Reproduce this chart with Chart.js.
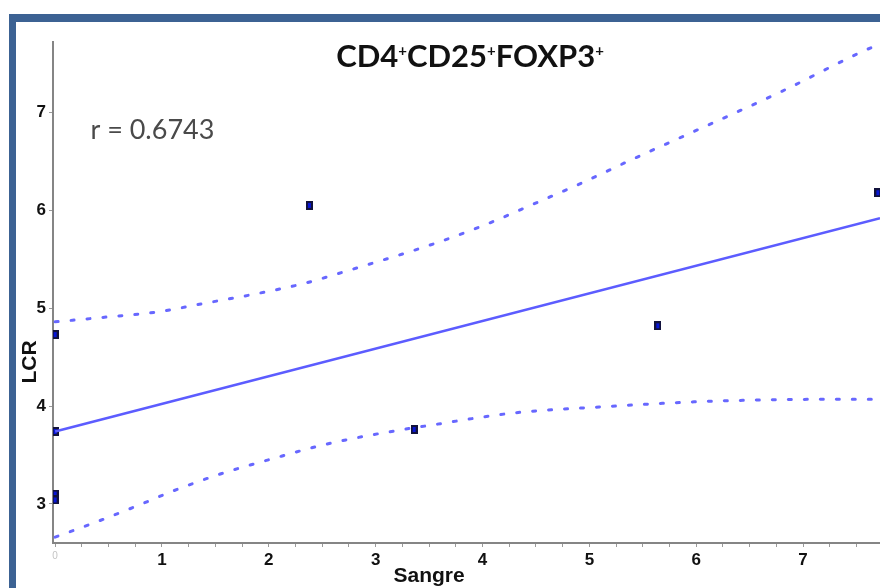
<!DOCTYPE html>
<html>
<head>
<meta charset="utf-8">
<script src="https://cdn.jsdelivr.net/npm/chart.js@4.4.1/dist/chart.umd.min.js"></script>
<style>
  html, body { margin: 0; padding: 0; background: #fff; overflow: hidden; width: 880px; height: 588px; }
  #frame {
    position: absolute; left: 9px; top: 14px; width: 871px; height: 574px;
    border-top: 8px solid #3c6293; border-left: 7px solid #3c6293;
    box-sizing: border-box;
  }
  #chartCanvas { position: absolute; left: 0; top: 0; }
</style>
</head>
<body>
<div id="frame"></div>
<!-- canvas a few px wider than the window so the plot runs off the right edge like the source -->
<canvas id="chartCanvas" width="885" height="588"></canvas>
<script>
// observed points (Sangre vs LCR)
const pointsX = [0, 0, 0, 0, 2.38, 3.36, 5.64, 7.70];
const pointsY = [4.73, 3.74, 3.10, 3.04, 6.05, 3.76, 4.82, 6.18];

// regression line
const fitX = [0, 7.72];
const fitY = [3.74, 5.92];

// confidence band
const upperX = [0, 0.49, 0.95, 1.40, 1.85, 2.32, 2.79, 3.55, 4.02, 4.49, 4.93, 5.40, 6.17, 6.79, 7.55, 7.72];
const upperY = [4.86, 4.91, 4.96, 5.05, 5.14, 5.25, 5.40, 5.66, 5.85, 6.07, 6.28, 6.52, 6.90, 7.21, 7.62, 7.70];
const lowerX = [0, 0.35, 0.79, 1.10, 1.56, 2.03, 2.50, 2.94, 3.55, 4.30, 5.09, 6.17, 7.57, 7.72];
const lowerY = [2.66, 2.80, 2.99, 3.13, 3.31, 3.46, 3.60, 3.70, 3.81, 3.93, 3.99, 4.05, 4.07, 4.07];

// axis ticks
const xTickLabels = [0, 1, 2, 3, 4, 5, 6, 7];
const xMinorStep = 0.25;
const yTickLabels = [3, 4, 5, 6, 7];

const titleParts = ['CD4', 'CD25', 'FOXP3'];
const rText = 'r = 0.6743';
const xTitle = 'Sangre';
const yTitle = 'LCR';

const toXY = (xs, ys) => xs.map((x, i) => ({ x: x, y: ys[i] }));

// small dark-blue rectangle like the original markers
function makeMarker() {
    const c = document.createElement('canvas');
    c.width = 7;
    c.height = 9;
    const g = c.getContext('2d');
    g.fillStyle = '#12123c';
    g.fillRect(0, 0, 7, 9);
    g.fillStyle = '#0816d6';
    g.fillRect(2, 2, 3, 5);
    return c;
}

const textPlugin = {
    id: 'texts',
    afterDraw(chart) {
        const ctx = chart.ctx;
        const xs = chart.scales.x;
        const ys = chart.scales.y;
        ctx.save();

        // title with superscript plus signs
        const bigFont = 'bold 31px Lato';
        const smallFont = 'bold 15px Lato';
        let total = 0;
        const widths = titleParts.map(p => {
            ctx.font = bigFont;
            const w = ctx.measureText(p).width;
            ctx.font = smallFont;
            const pw = ctx.measureText('+').width;
            total += w + pw;
            return [w, pw];
        });
        let cx = 470 - total / 2;
        ctx.textBaseline = 'alphabetic';
        ctx.textAlign = 'left';
        ctx.fillStyle = '#111';
        titleParts.forEach((p, i) => {
            ctx.font = bigFont;
            ctx.fillText(p, cx, 67);
            cx += widths[i][0];
            ctx.font = smallFont;
            ctx.fillText('+', cx, 56);
            cx += widths[i][1];
        });

        // correlation text
        ctx.font = '27px Lato';
        ctx.fillStyle = '#4a4a4a';
        ctx.textBaseline = 'middle';
        ctx.fillText(rText, xs.getPixelForValue(0.33), ys.getPixelForValue(6.82));

        // axis titles
        ctx.font = 'bold 21px "Liberation Sans"';
        ctx.fillStyle = '#111';
        ctx.textAlign = 'center';
        ctx.fillText(xTitle, xs.getPixelForValue(3.5), 576);

        ctx.translate(30, ys.getPixelForValue(4.45));
        ctx.rotate(-Math.PI / 2);
        ctx.fillText(yTitle, 0, 0);
        ctx.restore();
    }
};

const marker = makeMarker();

new Chart(document.getElementById('chartCanvas'), {
    type: 'scatter',
    data: {
        datasets: [
            {
                label: 'upper',
                data: toXY(upperX, upperY),
                showLine: true,
                borderColor: '#6767ff',
                borderWidth: 3,
                borderDash: [3, 13],
                borderCapStyle: 'round',
                cubicInterpolationMode: 'monotone',
                pointRadius: 0
            },
            {
                label: 'lower',
                data: toXY(lowerX, lowerY),
                showLine: true,
                borderColor: '#6767ff',
                borderWidth: 3,
                borderDash: [3, 13],
                borderCapStyle: 'round',
                cubicInterpolationMode: 'monotone',
                pointRadius: 0
            },
            {
                label: 'fit',
                data: toXY(fitX, fitY),
                showLine: true,
                borderColor: '#5c5cff',
                borderWidth: 2.5,
                pointRadius: 0
            },
            {
                label: 'points',
                data: toXY(pointsX, pointsY),
                pointStyle: marker,
                pointRadius: 4
            }
        ]
    },
    options: {
        responsive: false,
        animation: false,
        layout: { padding: { top: 42, left: 0, right: 0, bottom: 0 } },
        plugins: {
            legend: { display: false },
            title: { display: false },
            tooltip: { enabled: false }
        },
        scales: {
            x: {
                type: 'linear',
                min: -0.02,
                max: 7.72,
                afterFit: scale => {
                    scale.height = 45;
                    scale.paddingRight = 0;
                    scale.paddingLeft = 0;
                },
                afterBuildTicks: scale => {
                    const ticks = [];
                    for (let v = 0; v <= 7.5 + 1e-9; v += xMinorStep) {
                        ticks.push({ value: Math.round(v * 100) / 100 });
                    }
                    scale.ticks = ticks;
                },
                border: { display: true, color: '#858585', width: 2 },
                grid: { drawOnChartArea: false, drawTicks: true, tickLength: 4, color: '#9a9a9a' },
                ticks: {
                    autoSkip: false,
                    maxRotation: 0,
                    padding: 3,
                    color: ctx => ctx.tick.value === 0 ? '#c4c4c4' : '#111',
                    font: ctx => ctx.tick && ctx.tick.value === 0
                        ? { family: 'Liberation Sans', size: 10 }
                        : { family: 'Liberation Sans', size: 17, weight: 'bold' },
                    callback: v => xTickLabels.includes(v) ? String(v) : ''
                }
            },
            y: {
                type: 'linear',
                min: 2.6,
                max: 7.72,
                afterFit: scale => { scale.width = 53; },
                afterBuildTicks: scale => {
                    scale.ticks = yTickLabels.map(v => ({ value: v }));
                },
                border: { display: true, color: '#858585', width: 2 },
                grid: { drawOnChartArea: false, drawTicks: true, tickLength: 4, color: '#9a9a9a' },
                ticks: {
                    padding: 3,
                    color: '#111',
                    font: { family: 'Liberation Sans', size: 17, weight: 'bold' },
                    callback: v => String(v)
                }
            }
        }
    },
    plugins: [textPlugin]
});
</script>
</body>
</html>
